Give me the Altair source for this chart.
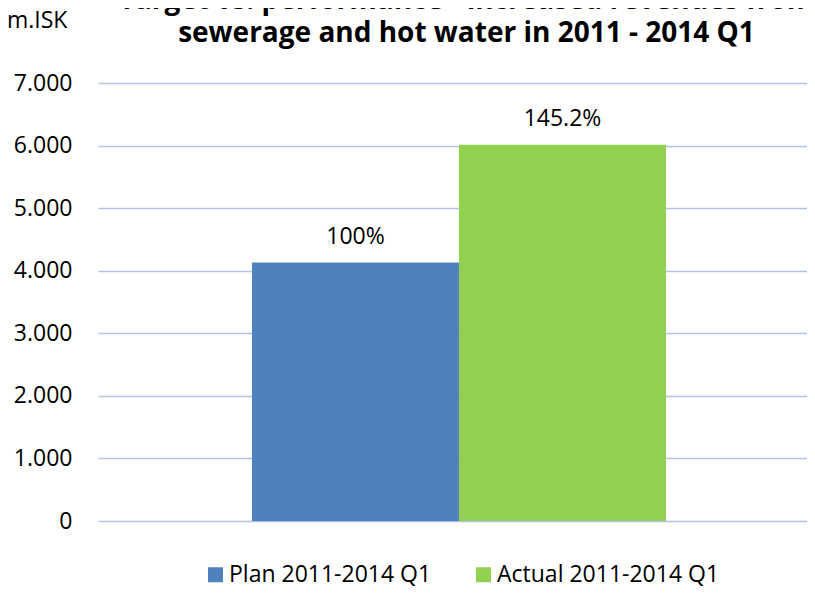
import altair as alt
import pandas as pd

# ---- data ----
series = ["Plan 2011-2014 Q1", "Actual 2011-2014 Q1"]
values = [4130, 6015]
pct_labels = ["100%", "145.2%"]
colors = ["#4F81BD", "#92D050"]
y_ticks = [0, 1000, 2000, 3000, 4000, 5000, 6000, 7000]
unit_label = ["m.ISK"]
title_lines = ["Target vs. performance - increased revenues from",
               "sewerage and hot water in 2011 - 2014 Q1"]

FONT = "Open Sans"
FS = 23

df = pd.DataFrame({"series": series, "value": values, "label": pct_labels})

x = alt.X("series:N", sort=series, axis=None,
          scale=alt.Scale(paddingInner=0, paddingOuter=0.7126, align=0.522))
y = alt.Y("value:Q",
          scale=alt.Scale(domain=[0, 7000], nice=False),
          axis=alt.Axis(values=y_ticks, title=None, domain=False, ticks=False,
                        labelPadding=26, labelFontSize=FS, labelFont=FONT,
                        labelColor="#000000", grid=True, gridColor="#AFC2EA",
                        gridWidth=1.5,
                        labelExpr="replace(format(datum.value, ',d'), ',', '.')"))

bars = alt.Chart(df).mark_bar().encode(
    x=x, y=y,
    color=alt.Color("series:N", sort=series,
                    scale=alt.Scale(domain=series, range=colors),
                    legend=alt.Legend(orient="none", legendX=106, legendY=480,
                                      direction="horizontal", title=None,
                                      symbolType="square", symbolSize=225,
                                      symbolStrokeWidth=0, symbolOpacity=1,
                                      labelFontSize=FS, labelFont=FONT,
                                      labelColor="#000000", columnPadding=40,
                                      labelOffset=2, labelLimit=0)),
)

text = alt.Chart(df).mark_text(baseline="alphabetic", dy=-19, fontSize=FS,
                               font=FONT, color="#000000").encode(
    x=x, y=y, text="label:N")

unit = alt.Chart(pd.DataFrame({"t": unit_label})).mark_text(
    align="left", baseline="middle", fontSize=FS, font=FONT, color="#000000"
).encode(x=alt.value(-91), y=alt.value(-62), text="t:N")

title = alt.Chart(pd.DataFrame({"t": ["\n".join(title_lines)]})).mark_text(
    align="center", baseline="alphabetic", fontSize=28, fontWeight="bold",
    font=FONT, color="#000000", lineBreak="\n", lineHeight=33
).encode(x=alt.value(368.5), y=alt.value(-74), text="t:N")

chart = alt.layer(bars, text, unit, title).properties(
    width=709, height=438,
    autosize=alt.AutoSizeParams(type="none"),
    padding={"left": 90, "top": 75, "right": 0, "bottom": 65},
).configure_view(stroke=None)

chart.save("out.html", embed_options={"renderer": "svg", "actions": False})
